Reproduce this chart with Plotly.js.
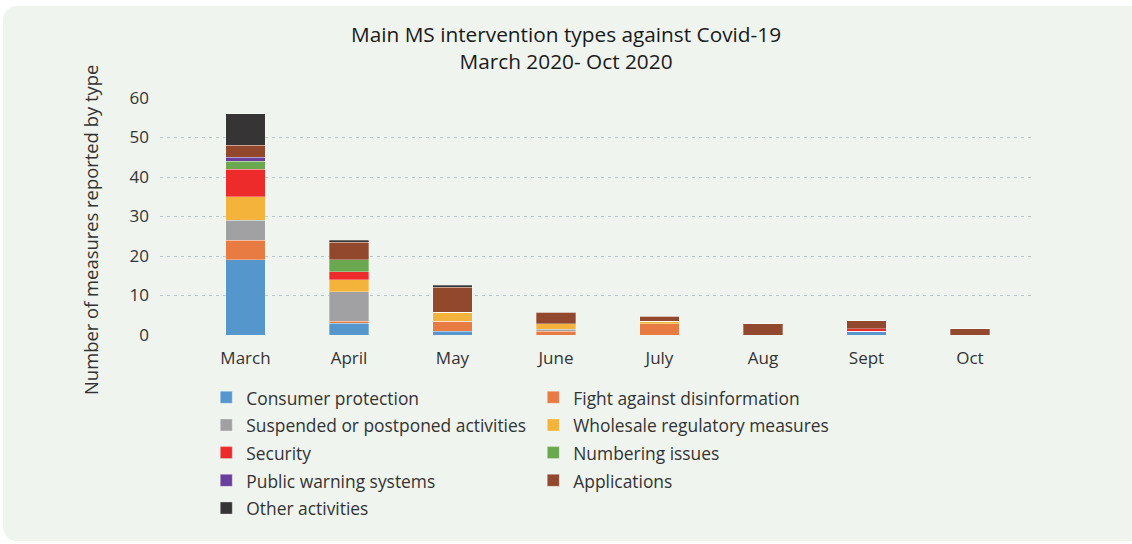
<!DOCTYPE html>
<html>
<head>
<meta charset="utf-8">
<script src="https://cdn.plot.ly/plotly-3.0.1.min.js"></script>
<style>
  html, body { margin: 0; padding: 0; background: #ffffff; }
  #wrap { position: relative; width: 1132px; height: 544px; overflow: hidden; }
  #panel { position: absolute; left: 3px; top: 6px; width: 1140px; height: 535px; background: #eff4ef; border-radius: 14px; }
  #chart { position: absolute; left: 0; top: 0; width: 1132px; height: 544px; }
</style>
</head>
<body>
<div id="wrap"><div id="panel"></div><div id="chart"></div></div>
<script>
const months = ["March", "April", "May", "June", "July", "Aug", "Sept", "Oct"];

const consumerProtection   = [19, 3,   1,   0,   0,   0,   0.9, 0];
const fightDisinformation  = [5,  0.5, 2.5, 0.9, 2.8, 0,   0,   0];
const suspendedActivities  = [5,  7.5, 0,   0.6, 0,   0,   0,   0];
const wholesaleMeasures    = [6,  3,   2.3, 1.3, 0.7, 0,   0,   0];
const security             = [7,  2,   0,   0,   0,   0,   0.7, 0];
const numberingIssues      = [2,  3,   0,   0,   0,   0,   0,   0];
const publicWarning        = [1,  0,   0,   0,   0,   0,   0,   0];
const applications         = [3,  4.5, 6.3, 2.9, 1.2, 2.8, 2,   1.6];
const otherActivities      = [8,  0.5, 0.5, 0,   0,   0,   0,   0];

const seriesNames = [
  "Consumer protection", "Fight against disinformation",
  "Suspended or postponed activities", "Wholesale regulatory measures",
  "Security", "Numbering issues",
  "Public warning systems", "Applications",
  "Other activities"
];
const seriesValues = [
  consumerProtection, fightDisinformation, suspendedActivities, wholesaleMeasures,
  security, numberingIssues, publicWarning, applications, otherActivities
];
const seriesColors = [
  "#5596cd", "#e87b42", "#a1a1a3", "#f4b33a",
  "#ee2b2b", "#6aa84f", "#6a3f9c", "#91482d", "#363435"
];

const traces = seriesNames.map((name, i) => ({
  type: "bar",
  name: "<span style='font-size:17.4px'>" + name + "</span>",
  x: months,
  y: seriesValues[i],
  marker: { color: seriesColors[i], line: { color: "rgba(255,255,255,0.5)", width: 0.6 } },
  hoverinfo: "x+y"
}));

const font = "Open Sans, Noto Sans, sans-serif";

const layout = {
  width: 1132,
  height: 544,
  paper_bgcolor: "rgba(0,0,0,0)",
  plot_bgcolor: "rgba(0,0,0,0)",
  barmode: "stack",
  bargap: 0.62,
  margin: { l: 160, r: 99, t: 98, b: 209, pad: 0 },
  font: { family: font, color: "#333333", size: 17 },
  title: {
    text: "Main MS intervention types against Covid-19<br>March 2020- Oct 2020",
    font: { family: font, size: 20.8, color: "#1a1a1a" },
    x: 0.5, xref: "container", xanchor: "center",
    y: 0.922, yref: "container", yanchor: "top"
  },
  xaxis: {
    type: "category",
    range: [-0.826, 7.609],
    showgrid: false,
    zeroline: false,
    showline: false,
    ticks: "",
    ticklabelstandoff: 11,
    tickfont: { family: font, size: 17, color: "#333333" },
    fixedrange: true
  },
  yaxis: {
    range: [0, 60],
    dtick: 10,
    showgrid: true,
    gridcolor: "#b9c5cc",
    gridwidth: 1,
    griddash: "3px,4px",
    zeroline: false,
    showline: false,
    ticks: "",
    ticklabelstandoff: 10,
    tickfont: { family: font, size: 17, color: "#333333" },
    fixedrange: true
  },
  annotations: [{
    text: "Number of measures reported by type",
    textangle: -90,
    xref: "paper", yref: "paper",
    x: -0.0802, y: 0.443,
    xanchor: "center", yanchor: "middle",
    showarrow: false,
    font: { family: font, size: 18.4, color: "#333333" }
  }],
  legend: {
    orientation: "h",
    x: 0.053,
    xanchor: "left",
    y: -0.183,
    yanchor: "top",
    entrywidth: 282,
    entrywidthmode: "pixels",
    traceorder: "normal",
    font: { family: font, size: 19, color: "#333333" },
    bgcolor: "rgba(0,0,0,0)",
    itemwidth: 30
  },
  showlegend: true
};

Plotly.newPlot("chart", traces, layout, { displayModeBar: false, staticPlot: true });
</script>
</body>
</html>
